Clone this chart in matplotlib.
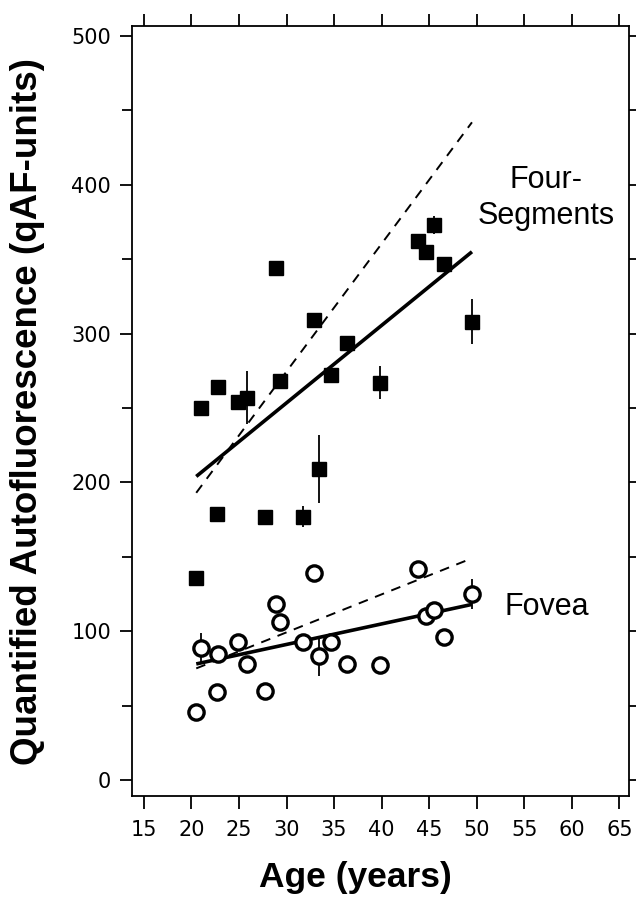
import numpy as np
import matplotlib
matplotlib.use("Agg")
from matplotlib import pyplot as plt
from matplotlib.ticker import MultipleLocator

# ages shared by both retinal regions
age = [20.5, 21.0, 22.7, 22.8, 24.9, 25.8, 27.7, 28.9, 29.3, 31.7,
       32.9, 33.4, 34.7, 36.4, 39.8, 43.8, 44.7, 45.5, 46.6, 49.5]

seg_qaf = [136, 250, 179, 264, 254, 257, 177, 344, 268, 177,
           309, 209, 272, 294, 267, 362, 355, 373, 347, 308]
seg_err = [0, 0, 0, 0, 0, 18, 0, 0, 0, 7,
           0, 23, 0, 4, 11, 0, 4, 6, 4, 15]

fov_qaf = [46, 89, 59, 85, 93, 78, 60, 118, 106, 93,
           139, 83, 93, 78, 77, 142, 110, 114, 96, 125]
fov_err = [0, 10, 0, 0, 0, 0, 0, 0, 0, 0,
           0, 13, 0, 0, 0, 0, 0, 0, 0, 10]

fit_x = [20.5, 49.5]
seg_fit = [204, 355]
seg_ref = [193, 442]
fov_fit = [78, 118]
fov_ref = [75, 149]

fig = plt.figure(figsize=(6.36, 8.98), dpi=100)
ax = fig.add_axes([0.2075, 0.1136, 0.782, 0.8574])

ax.plot(fit_x, seg_ref, color='black', lw=1.4, ls=(0, (5, 4)))
ax.plot(fit_x, fov_ref, color='black', lw=1.4, ls=(0, (5, 4)))
ax.plot(fit_x, seg_fit, color='black', lw=2.6, solid_capstyle='butt')
ax.plot(fit_x, fov_fit, color='black', lw=2.6, solid_capstyle='butt')

ax.errorbar(age, seg_qaf, yerr=seg_err, fmt='s', color='black',
            ms=10, elinewidth=1.3, capsize=0, zorder=4)
ax.errorbar(age, fov_qaf, yerr=fov_err, fmt='o', color='black',
            mfc='white', mec='black', mew=2.4, ms=11,
            elinewidth=1.3, capsize=0, zorder=4)

ax.text(57.3, 391, "Four-\nSegments", fontsize=22, family='Liberation Sans',
        ha='center', va='center', linespacing=1.25)
ax.text(57.4, 116, "Fovea", fontsize=22, family='Liberation Sans',
        ha='center', va='center')

ax.set_xlim(13.74, 66.05)
ax.set_ylim(-10.75, 506.7)
ax.xaxis.set_major_locator(MultipleLocator(5))
ax.yaxis.set_major_locator(MultipleLocator(100))
ax.yaxis.set_minor_locator(MultipleLocator(50))

ax.tick_params(which='both', direction='out', top=True, right=True,
               width=1.3, labelsize=15, colors='black')
ax.tick_params(which='major', length=9, pad=6)
ax.tick_params(which='minor', length=7)
ax.tick_params(axis='x', pad=8)
for s in ax.spines.values():
    s.set_linewidth(1.3)

ax.set_xlabel("Age (years)", fontsize=25.5, fontweight='bold',
              family='Liberation Sans')
ax.xaxis.set_label_coords(0.45, -0.085)
ax.set_ylabel("Quantified Autofluorescence (qAF-units)", fontsize=26.5,
              fontweight='bold', family='Liberation Sans', labelpad=19)

fig.savefig("out.png", dpi=100)
